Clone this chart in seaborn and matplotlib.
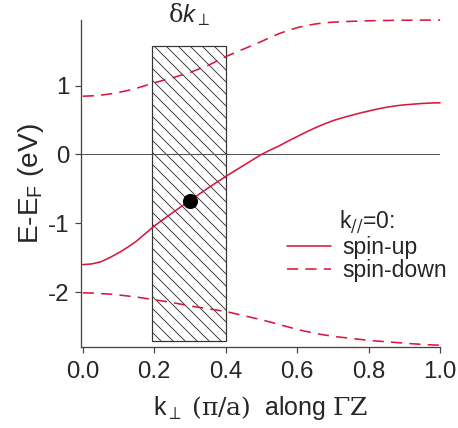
# Band dispersion along Gamma-Z with the delta-k window

import matplotlib
matplotlib.use("Agg")
import numpy as np
import pandas as pd
import matplotlib.pyplot as plt
import matplotlib.patches as patches
import matplotlib.transforms as mtransforms
import seaborn as sns

# ------------------------------------------
# Data
# ------------------------------------------

k_perp = [0.000, 0.025, 0.050, 0.075, 0.100, 0.125, 0.150, 0.175, 0.200, 0.225,
          0.250, 0.275, 0.300, 0.325, 0.350, 0.375, 0.400, 0.425, 0.450, 0.475,
          0.500, 0.525, 0.550, 0.575, 0.600, 0.625, 0.650, 0.675, 0.700, 0.725,
          0.750, 0.775, 0.800, 0.825, 0.850, 0.875, 0.900, 0.925, 0.950, 0.975,
          1.000]

spin_up = [-1.600, -1.590, -1.560, -1.500, -1.430, -1.350, -1.260, -1.150, -1.040, -0.945,
           -0.850, -0.760, -0.670, -0.580, -0.490, -0.405, -0.320, -0.240, -0.160, -0.080,
           0.000, 0.065, 0.125, 0.195, 0.260, 0.325, 0.385, 0.440, 0.490, 0.530,
           0.565, 0.600, 0.630, 0.660, 0.685, 0.705, 0.720, 0.730, 0.740, 0.746,
           0.750]

spin_down_upper = [0.845, 0.850, 0.860, 0.877, 0.900, 0.927, 0.960, 1.000, 1.040, 1.075,
                   1.110, 1.150, 1.190, 1.240, 1.290, 1.355, 1.420, 1.475, 1.530, 1.585,
                   1.640, 1.700, 1.755, 1.800, 1.840, 1.870, 1.893, 1.910, 1.920, 1.927,
                   1.932, 1.936, 1.940, 1.943, 1.945, 1.947, 1.948, 1.949, 1.950, 1.950,
                   1.950]

spin_down_lower = [-2.010, -2.012, -2.020, -2.028, -2.040, -2.055, -2.070, -2.090, -2.110, -2.130,
                   -2.150, -2.175, -2.200, -2.220, -2.240, -2.260, -2.280, -2.310, -2.340, -2.370,
                   -2.400, -2.435, -2.470, -2.505, -2.540, -2.570, -2.598, -2.620, -2.640, -2.656,
                   -2.670, -2.685, -2.700, -2.710, -2.720, -2.730, -2.740, -2.750, -2.758, -2.765,
                   -2.770]

window_k = [0.193, 0.40]       # delta k window
window_e = [-2.71, 1.58]
point_k = [0.30]
point_e = [-0.67]

x_ticks = [0.0, 0.2, 0.4, 0.6, 0.8, 1.0]
y_ticks = [-2, -1, 0, 1]

df = pd.DataFrame({
    "k": k_perp,
    "up": spin_up,
    "down_hi": spin_down_upper,
    "down_lo": spin_down_lower,
})

# ------------------------------------------
# Style
# ------------------------------------------

sns.set_style("ticks")
plt.rcParams["font.family"] = ["Liberation Sans", "DejaVu Sans"]
plt.rcParams["mathtext.fontset"] = "custom"
plt.rcParams["mathtext.rm"] = "DejaVu Serif"
plt.rcParams["mathtext.it"] = "Liberation Sans:italic"
plt.rcParams["mathtext.sf"] = "Liberation Sans"
plt.rcParams["axes.unicode_minus"] = False
plt.rcParams["hatch.linewidth"] = 0.9

red = "#d7193f"
axis_col = "#444444"
dash = (0, (7, 4.5))

fig = plt.figure(figsize=(458 / 72, 428 / 72), dpi=72)
ax = fig.add_axes([0.176, 0.1886, 0.785, 0.7644])

# ------------------------------------------
# Window and lines
# ------------------------------------------

rect = patches.Rectangle(
    (window_k[0], window_e[0]),
    window_k[1] - window_k[0],
    window_e[1] - window_e[0],
    facecolor="white",
    edgecolor="#333333",
    hatch="\\\\",
    linewidth=1.2,
    zorder=1,
)
ax.add_patch(rect)

ax.axhline(0, color="#555555", linewidth=1.0, zorder=2)

sns.lineplot(data=df, x="k", y="up", color=red, linewidth=1.6,
             label="spin-up", ax=ax, zorder=3, clip_on=False)
sns.lineplot(data=df, x="k", y="down_lo", color=red, linewidth=1.6,
             linestyle=dash, label="spin-down", ax=ax, zorder=3, clip_on=False)
sns.lineplot(data=df, x="k", y="down_hi", color=red, linewidth=1.6,
             linestyle=dash, ax=ax, zorder=3, clip_on=False)

ax.plot(point_k, point_e, "o", color="black", markersize=14, zorder=4)

# ------------------------------------------
# Axes
# ------------------------------------------

ax.set_xlim(-0.006, 1.0)
ax.set_ylim(-2.80, 1.95)
ax.set_xticks(x_ticks)
ax.set_xticklabels([f"{t:.1f}" for t in x_ticks])
ax.set_yticks(y_ticks)
ax.set_yticklabels([str(t) for t in y_ticks])

sns.despine(ax=ax)
for side in ["left", "bottom"]:
    ax.spines[side].set_color(axis_col)
    ax.spines[side].set_linewidth(1.3)
ax.tick_params(axis="both", direction="out", length=6, width=1.2,
               color=axis_col, labelsize=24)
ax.tick_params(axis="x", pad=8)
ax.tick_params(axis="y", pad=5)

ax.set_xlabel(r"k$_\perp$ $\mathrm{(π/a)}$  along $\mathrm{ΓZ}$", fontsize=25, labelpad=11)
ax.set_ylabel(r"E-E$_\mathsf{F}$ (eV)", fontsize=28, labelpad=2)

trans = mtransforms.blended_transform_factory(ax.transData, ax.transAxes)
ax.text(sum(window_k) / 2, 0.994, r"$\mathrm{δ}k_\perp$", transform=trans,
        ha="center", va="baseline", fontsize=24)

leg = ax.legend(
    title=r"k$_{\mathit{//}}$=0:",
    loc="upper left",
    bbox_to_anchor=(0.575, 0.425),
    frameon=False,
    fontsize=23,
    title_fontsize=23,
    handlelength=1.9,
    handletextpad=0.5,
    labelspacing=0.0,
    borderpad=0,
    borderaxespad=0,
)
for line in leg.get_lines():
    line.set_linewidth(1.6)

fig.savefig("out.png", dpi=72)
